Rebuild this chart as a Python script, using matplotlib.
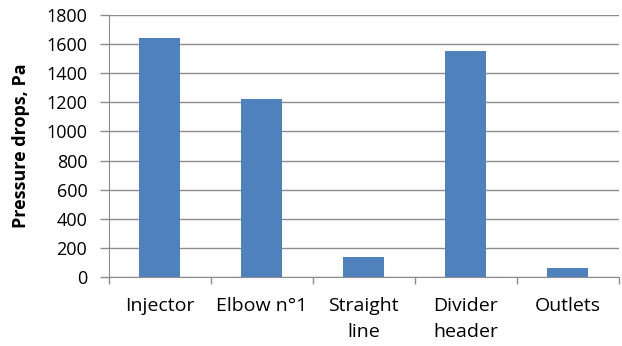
import matplotlib.pyplot as plt
import numpy as np

plt.rcParams['font.family'] = ['Open Sans', 'DejaVu Sans']

components = ["Injector", "Elbow n°1", "Straight\nline", "Divider\nheader", "Outlets"]
pressure_drops = [1640, 1220, 140, 1555, 62]

fig = plt.figure(figsize=(6.22, 3.46), dpi=100)
ax = fig.add_axes([0.175, 0.199, 0.82, 0.758])

x = np.arange(len(components))
ax.bar(x, pressure_drops, width=0.4, color="#4f81bd", zorder=3)

ax.set_xlim(-0.5, len(components) - 0.5)
ax.set_ylim(0, 1800)
ax.set_yticks(np.arange(0, 1801, 200))
ax.yaxis.grid(True, color="#8c8c8c", linewidth=1.0, zorder=0)

# category names centred under the bars, tick marks between categories
ax.set_xticks(x)
ax.set_xticklabels(components, fontsize=14, linespacing=1.6)
ax.set_xticks(np.arange(-0.5, len(components)), minor=True)
ax.tick_params(axis="x", which="major", length=0, pad=14)
ax.tick_params(axis="x", which="minor", length=5, color="#8c8c8c", width=1)
ax.tick_params(axis="y", length=6.5, color="#8c8c8c", width=1, labelsize=13, pad=9)

for side in ["top", "right"]:
    ax.spines[side].set_visible(False)
ax.spines["left"].set_color("#8c8c8c")
ax.spines["bottom"].set_color("#8c8c8c")

ax.set_ylabel("Pressure drops, Pa", fontsize=13, fontweight="bold")
ax.yaxis.set_label_coords(-0.155, 0.5)

fig.savefig("out.png", dpi=100)
